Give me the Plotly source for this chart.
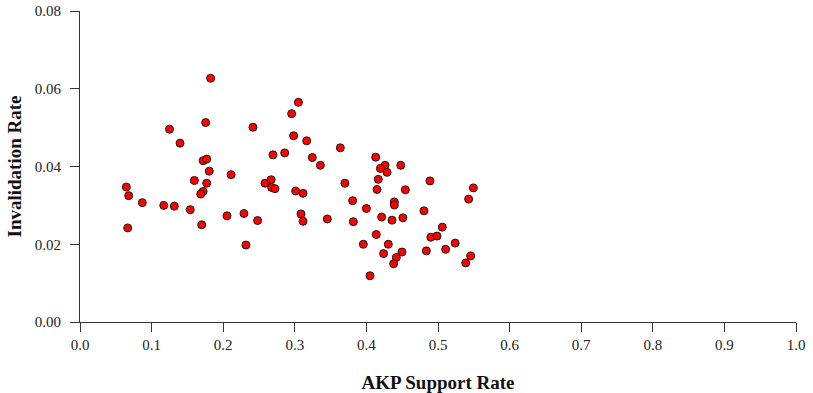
import plotly.graph_objects as go

akp_support = [
    0.1825, 0.1755, 0.125, 0.1397, 0.172, 0.177, 0.1806, 0.1597, 0.211,
    0.0647, 0.068, 0.087, 0.117, 0.1317, 0.154, 0.0666, 0.177, 0.172, 0.1686, 0.170, 0.2053,
    0.305, 0.2956, 0.2416, 0.2984, 0.3166, 0.3636, 0.2696, 0.2859, 0.3245, 0.3357,
    0.2584, 0.267, 0.2677, 0.2723, 0.3012, 0.3115, 0.370, 0.229, 0.248, 0.3087, 0.3115, 0.3454, 0.2318,
    0.413, 0.426, 0.4195, 0.4288, 0.448, 0.4166, 0.4148, 0.4544, 0.4888, 0.3808, 0.400, 0.439, 0.439,
    0.3817, 0.4213, 0.4358, 0.451, 0.4804, 0.506, 0.490, 0.4986, 0.4138,
    0.3957, 0.4306, 0.424, 0.4497, 0.4418, 0.438, 0.405, 0.4837, 0.5107, 0.524,
    0.5494, 0.5428, 0.5456, 0.5387,
]
invalidation = [
    0.0627, 0.0513, 0.0496, 0.0460, 0.0415, 0.0419, 0.0388, 0.0364, 0.0379,
    0.0347, 0.0325, 0.0307, 0.0300, 0.0298, 0.0289, 0.0242, 0.0357, 0.0336, 0.0329, 0.0250, 0.0273,
    0.0565, 0.0536, 0.0501, 0.0479, 0.0466, 0.0448, 0.0430, 0.0435, 0.0423, 0.0403,
    0.0357, 0.0366, 0.0346, 0.0343, 0.0337, 0.0331, 0.0357, 0.0279, 0.0261, 0.0278, 0.0259, 0.0265, 0.0198,
    0.0424, 0.0403, 0.0395, 0.0385, 0.0403, 0.0367, 0.0341, 0.0340, 0.0363, 0.0312, 0.0292, 0.0309, 0.0301,
    0.0258, 0.0270, 0.0262, 0.0268, 0.0286, 0.0244, 0.0218, 0.0221, 0.0225,
    0.0200, 0.0200, 0.0176, 0.0180, 0.0166, 0.0150, 0.0119, 0.0183, 0.0187, 0.0203,
    0.0345, 0.0316, 0.0170, 0.0152,
]

x_ticks = [0.0, 0.1, 0.2, 0.3, 0.4, 0.5, 0.6, 0.7, 0.8, 0.9, 1.0]
x_tick_labels = ["0.0", "0.1", "0.2", "0.3", "0.4", "0.5", "0.6", "0.7", "0.8", "0.9", "1.0"]
y_ticks = [0.0, 0.02, 0.04, 0.06, 0.08]
y_tick_labels = ["0.00", "0.02", "0.04", "0.06", "0.08"]

serif = "Liberation Serif, Times New Roman, serif"

fig = go.Figure()
fig.add_trace(go.Scatter(
    x=akp_support, y=invalidation, mode="markers",
    marker=dict(color="#ff0000", size=8, line=dict(color="#1a1a1a", width=1)),
    cliponaxis=False, showlegend=False,
))

axis_common = dict(
    showgrid=False, zeroline=False, showline=True, linecolor="#333333", linewidth=1,
    ticks="outside", ticklen=9, tickcolor="#333333", tickwidth=1,
    tickfont=dict(family=serif, size=15, color="#222222"),
    ticklabeloverflow="allow",
)

fig.update_layout(
    width=813, height=393,
    margin=dict(l=80, r=17, t=11, b=71, autoexpand=False),
    paper_bgcolor="white", plot_bgcolor="white",
    xaxis=dict(range=[0, 1], tickvals=x_ticks, ticktext=x_tick_labels,
               title=dict(text="<b>AKP Support Rate</b>", font=dict(family=serif, size=19, color="#111111"), standoff=23),
               automargin=False, **axis_common),
    yaxis=dict(range=[0, 0.08], tickvals=y_ticks, ticktext=y_tick_labels, ticklabelstandoff=6,
               title=dict(text="<b>Invalidation Rate</b>", font=dict(family=serif, size=19, color="#111111"), standoff=8),
               automargin=False, **axis_common),
)

fig.write_html("out.html", config={"displayModeBar": False},
               post_script="document.body.style.margin='0';")
